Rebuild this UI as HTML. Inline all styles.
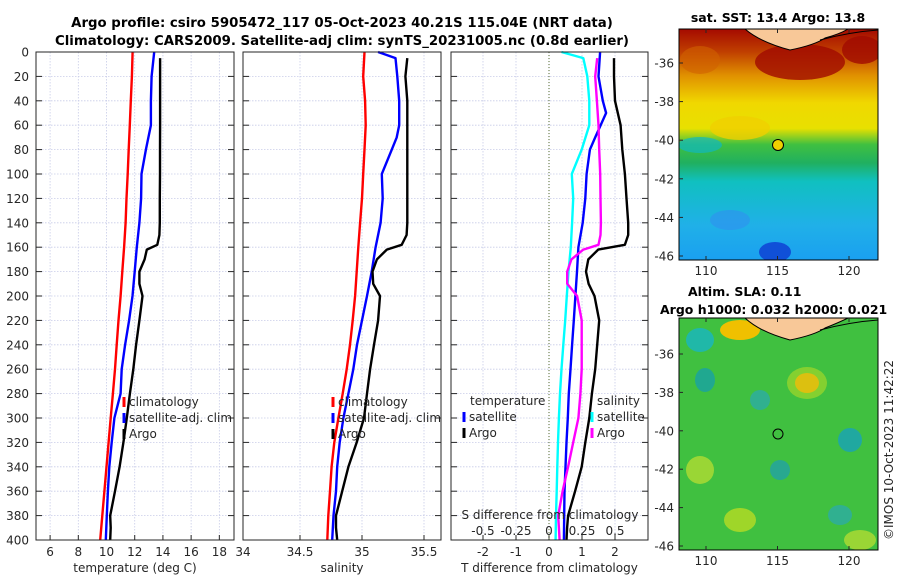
<!DOCTYPE html>
<html><head><meta charset="utf-8">
<style>
html,body{margin:0;padding:0;background:#fff;}
svg{display:block;font-family:"DejaVu Sans","Liberation Sans",sans-serif;}
.t{font-size:12px;fill:#262626;}
.b{font-size:12.5px;font-weight:bold;fill:#000;}
.bt{font-size:13.3px;font-weight:bold;fill:#000;}
</style></head>
<body>
<svg id="c" width="900" height="580" viewBox="0 0 900 580">
<defs>
<clipPath id="m1c"><rect x="679" y="29" width="199" height="231"/></clipPath>
<clipPath id="m2c"><rect x="679" y="318" width="199" height="232"/></clipPath>
<linearGradient id="sst" x1="0" y1="0" x2="0" y2="1">
<stop offset="0" stop-color="#a50a00"/><stop offset="0.1" stop-color="#c04000"/>
<stop offset="0.2" stop-color="#e09000"/><stop offset="0.32" stop-color="#f0d800"/>
<stop offset="0.43" stop-color="#e8e000"/><stop offset="0.5" stop-color="#40c040"/>
<stop offset="0.58" stop-color="#20b060"/><stop offset="0.66" stop-color="#10c0c0"/>
<stop offset="0.85" stop-color="#20b0e8"/><stop offset="1" stop-color="#1aa0f0"/>
</linearGradient>
</defs>
<text class="bt" x="342" y="27" text-anchor="middle">Argo profile: csiro 5905472_117 05-Oct-2023 40.21S 115.04E (NRT data)</text>
<text class="bt" x="342" y="45" text-anchor="middle">Climatology: CARS2009. Satellite-adj clim: synTS_20231005.nc (0.8d earlier)</text>
<g id="panels"></g>
<g id="maps">
<text class="b" x="778" y="22" text-anchor="middle">sat. SST: 13.4 Argo: 13.8</text>
<g clip-path="url(#m1c)">
<rect x="679" y="29" width="199" height="231" fill="url(#sst)"/>
<ellipse cx="700" cy="145" rx="22" ry="8" fill="#10b8c0" opacity="0.7"/>
<ellipse cx="740" cy="128" rx="30" ry="12" fill="#f0d000" opacity="0.8"/>
<ellipse cx="800" cy="62" rx="45" ry="18" fill="#a00a00" opacity="0.8"/>
<ellipse cx="862" cy="50" rx="20" ry="14" fill="#a00a00" opacity="0.8"/>
<ellipse cx="700" cy="60" rx="20" ry="14" fill="#d06000" opacity="0.6"/>
<ellipse cx="775" cy="252" rx="16" ry="10" fill="#1050d8"/>
<ellipse cx="730" cy="220" rx="20" ry="10" fill="#3090f0" opacity="0.6"/>
<path d="M745 29 Q760 42 790 50 Q815 45 825 38 Q840 34 848 29 Z" fill="#f8c898" stroke="#000" stroke-width="1"/>
<path d="M820 40 Q850 32 878 30" fill="none" stroke="#000" stroke-width="1"/>
<circle cx="778" cy="145" r="5.5" fill="#f0d000" stroke="#000" stroke-width="1"/>
</g>
<rect x="679" y="29" width="199" height="231" fill="none" stroke="#000" stroke-width="1"/>
<text class="b" x="688" y="296">Altim. SLA: 0.11</text>
<text class="b" x="660" y="314">Argo h1000: 0.032 h2000: 0.021</text>
<g clip-path="url(#m2c)">
<rect x="679" y="318" width="199" height="232" fill="#40c040"/>
<ellipse cx="700" cy="340" rx="14" ry="12" fill="#20b8a8"/>
<ellipse cx="740" cy="330" rx="20" ry="10" fill="#f0c000"/>
<ellipse cx="807" cy="383" rx="12" ry="10" fill="#f0a000"/>
<ellipse cx="807" cy="383" rx="20" ry="16" fill="#c8e020" opacity="0.5"/>
<ellipse cx="705" cy="380" rx="10" ry="12" fill="#20a890"/>
<ellipse cx="760" cy="400" rx="10" ry="10" fill="#30b090"/>
<ellipse cx="850" cy="440" rx="12" ry="12" fill="#20a8a0"/>
<ellipse cx="700" cy="470" rx="14" ry="14" fill="#c0e030" opacity="0.7"/>
<ellipse cx="780" cy="470" rx="10" ry="10" fill="#28a890"/>
<ellipse cx="740" cy="520" rx="16" ry="12" fill="#c8e020" opacity="0.7"/>
<ellipse cx="840" cy="515" rx="12" ry="10" fill="#30b090"/>
<ellipse cx="860" cy="540" rx="16" ry="10" fill="#c0e030" opacity="0.7"/>
<path d="M745 318 Q760 332 790 340 Q815 335 825 328 Q840 322 848 318 Z" fill="#f8c898" stroke="#000" stroke-width="1"/>
<path d="M820 330 Q850 322 878 320" fill="none" stroke="#000" stroke-width="1"/>
<circle cx="778" cy="434" r="5" fill="#40c040" stroke="#000" stroke-width="1"/>
</g>
<rect x="679" y="318" width="199" height="232" fill="none" stroke="#000" stroke-width="1"/>
<text class="t" x="893" y="540" transform="rotate(-90 893 540)">©IMOS 10-Oct-2023 11:42:22</text>
</g>
</svg>
<script>
const depthStd=[0,20,40,60,80,100,120,140,160,180,200,220,240,260,280,300,320,340,360,380,400];
const argoDepth=[5,20,40,60,80,100,120,140,150,158,162,170,180,190,200,220,240,260,280,300,320,340,360,380,390,400];
const tempClim=[11.85,11.8,11.72,11.65,11.57,11.5,11.42,11.35,11.25,11.12,11.0,10.85,10.72,10.6,10.45,10.3,10.15,10.0,9.85,9.7,9.55];
const tempSat=[13.38,13.2,13.15,13.15,12.79,12.48,12.45,12.33,12.15,12.0,11.84,11.6,11.32,11.08,11.0,10.56,10.37,10.2,10.1,10.02,9.95];
const tempArgo=[13.8,13.8,13.8,13.8,13.79,13.79,13.78,13.78,13.75,13.6,12.86,12.7,12.33,12.33,12.55,12.33,12.1,11.9,11.66,11.44,11.2,10.93,10.6,10.26,10.3,10.26];
const salClim=[35.02,35.01,35.025,35.03,35.02,35.01,35.0,34.985,34.97,34.957,34.944,34.925,34.903,34.877,34.844,34.81,34.777,34.755,34.742,34.728,34.72];
const salSatDepth=[0,5,20,40,60,70,80,100,120,140,160,180,200,220,240,260,280,300,320,340,360,380,400];
const salSat=[35.13,35.27,35.285,35.30,35.30,35.28,35.24,35.16,35.167,35.15,35.11,35.078,35.04,35.0,34.96,34.93,34.89,34.85,34.82,34.80,34.79,34.77,34.76];
const salArgo=[35.365,35.35,35.365,35.365,35.365,35.365,35.365,35.365,35.36,35.32,35.2,35.12,35.085,35.09,35.145,35.13,35.097,35.065,35.04,35.016,34.957,34.89,34.84,34.79,34.79,34.80];
const dTSatDepth=[0,20,40,50,70,80,100,120,140,160,180,200,220,240,260,280,300,320,340,360,380,400];
const dTSat=[1.55,1.50,1.63,1.73,1.40,1.24,1.14,1.10,1.02,0.89,0.85,0.80,0.75,0.70,0.65,0.60,0.57,0.53,0.50,0.47,0.46,0.45];
const dTArgo=[1.97,1.97,2.0,2.17,2.22,2.3,2.35,2.4,2.4,2.3,1.49,1.19,1.12,1.2,1.38,1.52,1.46,1.4,1.3,1.22,1.1,0.99,0.79,0.58,0.55,0.53];
const dSSatDepth=[0,5,20,40,60,80,100,120,140,160,180,200,220,240,260,280,300,320,340,360,380,400];
const dSSat=[0.095,0.26,0.29,0.305,0.305,0.248,0.173,0.183,0.175,0.165,0.148,0.135,0.123,0.108,0.095,0.083,0.075,0.068,0.063,0.058,0.053,0.05];
const dSArgo=[0.365,0.35,0.363,0.375,0.38,0.388,0.39,0.393,0.39,0.375,0.26,0.17,0.138,0.138,0.213,0.248,0.248,0.248,0.238,0.223,0.183,0.145,0.103,0.07,0.075,0.08];
const depthTicks=[0,20,40,60,80,100,120,140,160,180,200,220,240,260,280,300,320,340,360,380,400];
const tempTicks=[6,8,10,12,14,16,18];
const salTicks=[34.5,35,35.5];
const dTTicks=[-2,-1,0,1,2];
const dSTickLabels=["-0.5","-0.25","0","0.25","0.5"];
const dSTicks=[-0.5,-0.25,0,0.25,0.5];
const mapLatTicks=[-36,-38,-40,-42,-44,-46];
const mapLonTicks=[110,115,120];

const NS='http://www.w3.org/2000/svg';
const Y0=52,Y1=540;
function ys(d){return Y0+d*(Y1-Y0)/400;}
function mk(tag,attrs,parent,text){const e=document.createElementNS(NS,tag);for(const k in attrs)e.setAttribute(k,attrs[k]);if(text!==undefined)e.textContent=text;parent.appendChild(e);return e;}
const root=document.getElementById('panels');
const panels=[
 {name:'temperature-panel',x0:36,x1:234,v0:5.0,v1:19.04,ticks:tempTicks,label:'temperature (deg C)'},
 {name:'salinity-panel',x0:243,x1:441,v0:35-(362-243)/124,v1:35+(441-362)/124,ticks:salTicks,label:'salinity'},
 {name:'difference-panel',x0:451,x1:648,v0:-98/33,v1:99/33,ticks:dTTicks,label:'T difference from climatology'}
];
panels.forEach(p=>{p.xs=v=>p.x0+(v-p.v0)*(p.x1-p.x0)/(p.v1-p.v0);});
panels.forEach((p,i)=>{
 const g=mk('g',{},root);
 
 
 depthTicks.forEach(d=>{
  const y=ys(d);
  if(d>0&&d<400){const gl=mk('line',{x1:p.x0,x2:p.x1,y1:y,y2:y,stroke:'#c8cce8','stroke-width':0.8,'stroke-dasharray':'1.5,1.5'},g);
   
   }
  mk('line',{x1:p.x0,x2:p.x0+6,y1:y,y2:y,stroke:'#262626'},g);
  mk('line',{x1:p.x1-6,x2:p.x1,y1:y,y2:y,stroke:'#262626'},g);
  if(i===0){const t=mk('text',{class:'t',x:29,y:y+4.5,'text-anchor':'end'},g,String(d));
   
   }
 });
 p.ticks.forEach(v=>{
  const x=p.xs(v);
  const gl=mk('line',{x1:x,x2:x,y1:Y0,y2:Y1,stroke:'#c8cce8','stroke-width':0.8,'stroke-dasharray':'1.5,1.5'},g);
  
  
  mk('line',{x1:x,x2:x,y1:Y1,y2:Y1-5,stroke:'#262626'},g);
  const t=mk('text',{class:'t',x:x,y:556,'text-anchor':'middle'},g,String(v));
  
  
 });
 const xl=mk('text',{class:'t',x:(p.x0+p.x1)/2,y:572,'text-anchor':'middle'},g,p.label);
 
 
});
{const t=mk('text',{class:'t',x:243,y:556,'text-anchor':'middle'},root,'34');
 
 }
{const p=panels[2];const x=p.xs(0);
 const l=mk('line',{x1:x,x2:x,y1:Y0,y2:Y1,stroke:'#556b2f','stroke-width':1,'stroke-dasharray':'1,2'},root);
 
 }
function series(p,depths,vals,color,name,scale){
 const pts=depths.map((d,k)=>p.xs(vals[k]*(scale||1)).toFixed(1)+','+ys(d).toFixed(1)).join(' ');
 const l=mk('polyline',{points:pts,fill:'none',stroke:color,'stroke-width':2.4,'stroke-linejoin':'round'},root);
 
 
}
series(panels[0],depthStd,tempClim,'#ff0000','temp-climatology-line');
series(panels[0],depthStd,tempSat,'#0000ff','temp-satellite-line');
series(panels[0],argoDepth,tempArgo,'#000000','temp-argo-line');
series(panels[1],depthStd,salClim,'#ff0000','sal-climatology-line');
series(panels[1],salSatDepth,salSat,'#0000ff','sal-satellite-line');
series(panels[1],argoDepth,salArgo,'#000000','sal-argo-line');
series(panels[2],dSSatDepth,dSSat,'#00ffff','sdiff-satellite-line',4);
series(panels[2],dTSatDepth,dTSat,'#0000ff','tdiff-satellite-line');
series(panels[2],argoDepth,dSArgo,'#ff00ff','sdiff-argo-line',4);
series(panels[2],argoDepth,dTArgo,'#000000','tdiff-argo-line');
{const p=panels[2];
 const t=mk('text',{class:'t',x:550,y:519,'text-anchor':'middle'},root,'S difference from climatology');
 
 
 dSTicks.forEach((v,k)=>{const tt=mk('text',{class:'t',x:p.xs(v*4),y:535,'text-anchor':'middle'},root,dSTickLabels[k]);
  
  });}
panels.forEach(p=>{const r=mk('rect',{x:p.x0,y:Y0,width:p.x1-p.x0,height:Y1-Y0,fill:'none',stroke:'#262626','stroke-width':1},root);
 
 });
function legend(x,y,color,label){
 const g=mk('g',{},root);
 
 
 if(color) mk('line',{x1:x,x2:x,y1:y-9,y2:y+1,stroke:color,'stroke-width':3},g);
 mk('text',{class:'t',x:x+(color?5:0),y:y},g,label);
}
[[0,'#ff0000','climatology'],[1,'#0000ff','satellite-adj. clim'],[2,'#000000','Argo']].forEach(e=>{
 legend(124,406+e[0]*16,e[1],e[2]);legend(333,406+e[0]*16,e[1],e[2]);});
legend(470,405,null,'temperature');legend(464,421,'#0000ff','satellite');legend(464,437,'#000000','Argo');
legend(597,405,null,'salinity');legend(592,421,'#00ffff','satellite');legend(592,437,'#ff00ff','Argo');
const maps=document.getElementById('maps');
[[29,260,63,38.6],[318,550,354,38.4]].forEach(m=>{
 mapLatTicks.forEach((v,k)=>{const y=m[2]+k*m[3];
  mk('line',{x1:679,x2:683,y1:y,y2:y,stroke:'#262626'},maps);
  const t=mk('text',{class:'t',x:674,y:y+4.5,'text-anchor':'end'},maps,String(v));
  
  });
 mapLonTicks.forEach(v=>{const x=706+(v-110)*14.3;
  mk('line',{x1:x,x2:x,y1:m[1],y2:m[1]-4,stroke:'#262626'},maps);
  mk('line',{x1:x,x2:x,y1:m[0],y2:m[0]+4,stroke:'#262626'},maps);
  const t=mk('text',{class:'t',x:x,y:m[1]+15,'text-anchor':'middle'},maps,String(v));
  
  });
});
</script>
</body></html>
